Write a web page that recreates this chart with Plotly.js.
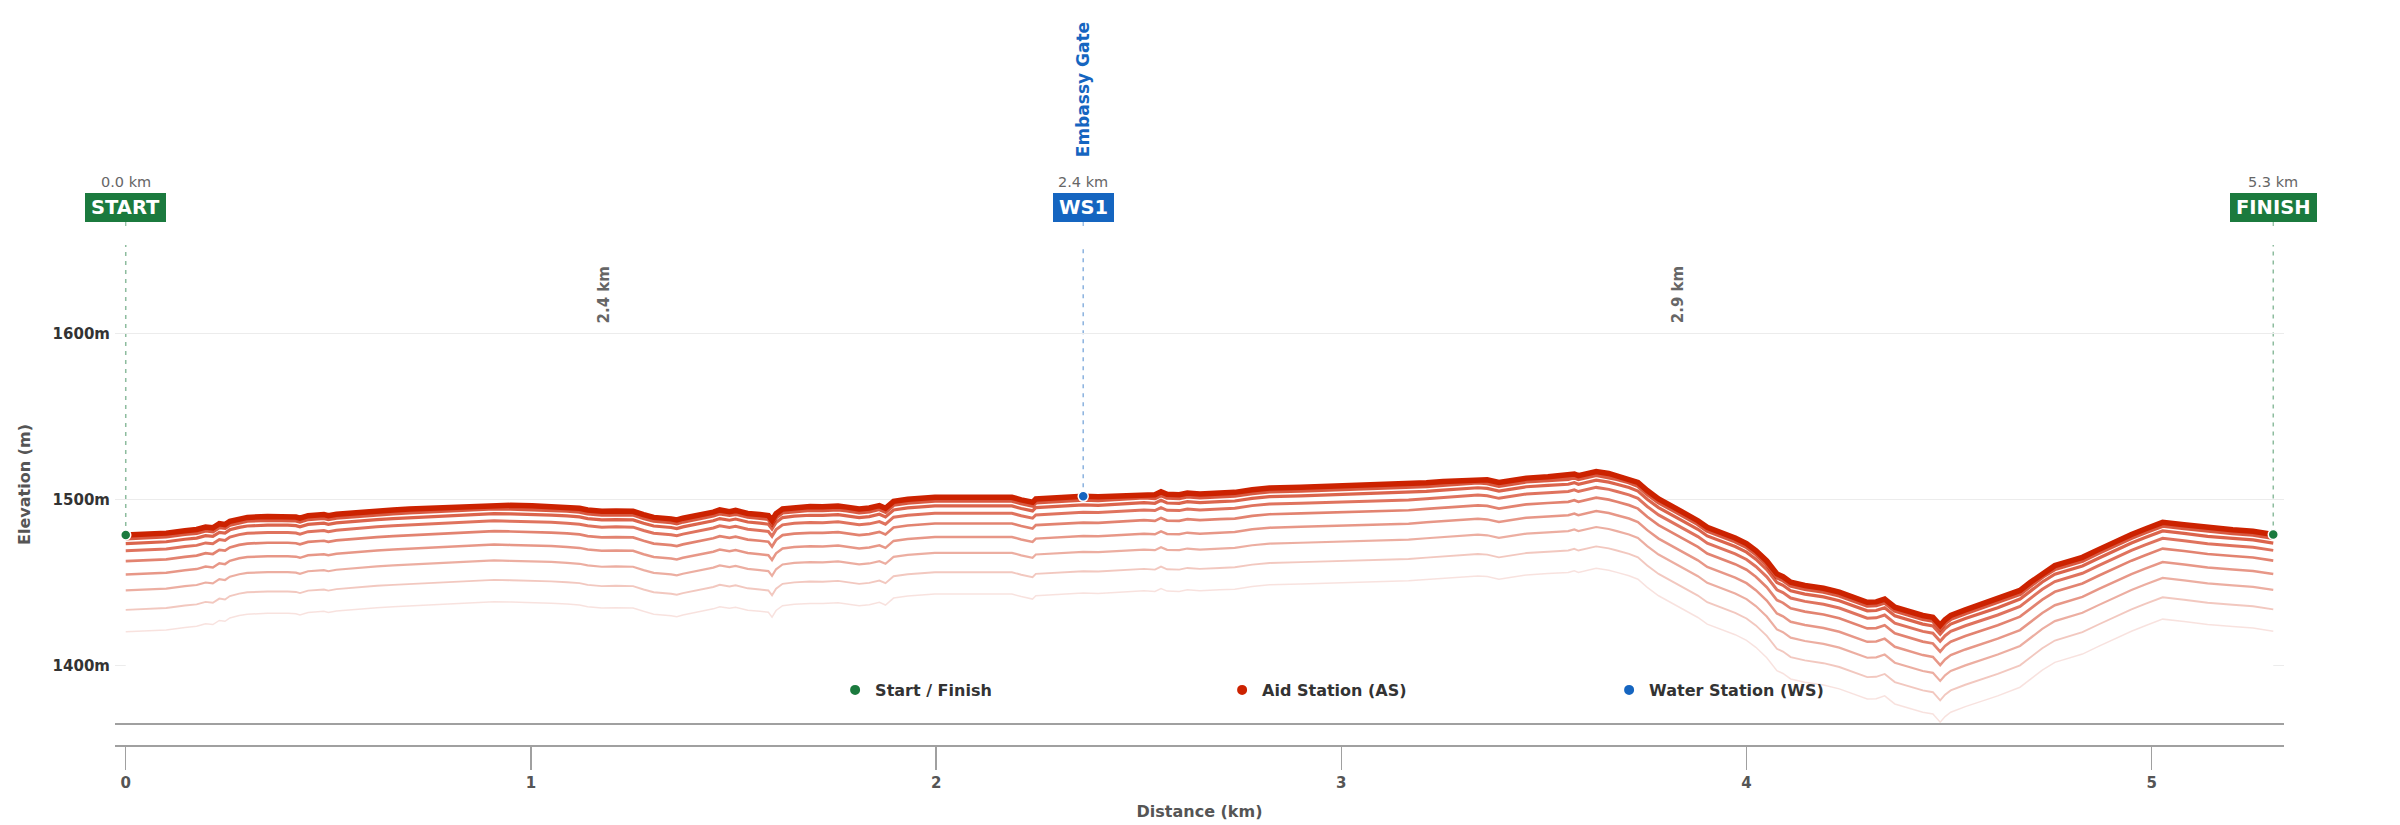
<!DOCTYPE html>
<html>
<head>
<meta charset="utf-8">
<script src="https://cdn.plot.ly/plotly-3.0.1.min.js"></script>
<style>
  html, body { margin: 0; padding: 0; background: #fff; }
  #chart { width: 2400px; height: 825px; }
</style>
</head>
<body>
<div id="chart"></div>
<script>
// ---------------- DATA ----------------
const distanceKm = [
  0.00, 0.05, 0.10, 0.146, 0.175, 0.197, 0.215, 0.231, 0.245, 0.257, 0.28, 0.30, 0.35, 0.40, 0.42, 0.43, 0.45,
  0.489, 0.50, 0.52, 0.574, 0.62, 0.66, 0.70, 0.746, 0.80, 0.832, 0.87, 0.909, 0.95, 1.003, 1.05, 1.089,
  1.12, 1.14, 1.175, 1.21, 1.252, 1.278, 1.303, 1.346, 1.36, 1.375, 1.398, 1.43, 1.45, 1.466, 1.48, 1.49,
  1.505, 1.535, 1.565, 1.586, 1.595, 1.605, 1.621, 1.65, 1.689, 1.72, 1.758, 1.78, 1.81, 1.835, 1.86, 1.875,
  1.895, 1.93, 1.997, 2.05, 2.10, 2.187, 2.21, 2.238, 2.246, 2.30, 2.363, 2.40, 2.45, 2.513, 2.54, 2.555,
  2.57, 2.60, 2.62, 2.651, 2.70, 2.737, 2.78, 2.823, 2.90, 2.994, 3.08, 3.166, 3.21, 3.251, 3.30, 3.337,
  3.36, 3.389, 3.42, 3.457, 3.51, 3.56, 3.575, 3.585, 3.629, 3.66, 3.68, 3.71, 3.732, 3.755, 3.783, 3.82,
  3.852, 3.88, 3.903, 3.94, 3.972, 4.00, 4.023, 4.05, 4.075, 4.09, 4.109, 4.144, 4.19, 4.229, 4.26, 4.298,
  4.32, 4.341, 4.366, 4.40, 4.435, 4.46, 4.478, 4.49, 4.504, 4.54, 4.572, 4.62, 4.675, 4.70, 4.73, 4.761,
  4.80, 4.829, 4.87, 4.915, 4.95, 4.984, 5.027, 5.08, 5.138, 5.20, 5.25, 5.30
];
const elevationM = [
  1478.7, 1479.2, 1479.8, 1481.3, 1482.0, 1483.5, 1483.0, 1485.5, 1485.0, 1487.0, 1488.5, 1489.3, 1489.8, 1489.8, 1489.5, 1488.8, 1490.3,
  1491.0, 1490.3, 1491.2, 1492.4, 1493.2, 1493.8, 1494.3, 1494.8, 1495.6, 1496.0, 1496.5, 1496.8, 1496.6, 1496.4, 1495.9, 1495.4,
  1494.8, 1493.8, 1493.0, 1493.2, 1493.0, 1491.0, 1489.3, 1488.4, 1487.8, 1488.8, 1489.8, 1491.2, 1492.5, 1493.8, 1493.2, 1492.8,
  1493.5, 1491.7, 1491.0, 1490.4, 1487.5, 1491.5, 1494.4, 1495.3, 1495.8, 1495.7, 1496.2, 1495.5, 1494.4, 1495.0, 1496.4, 1494.8,
  1499.0, 1500.2, 1501.4, 1501.4, 1501.5, 1501.4, 1499.9, 1498.4, 1500.4, 1501.2, 1502.0, 1501.8, 1502.5, 1503.4, 1503.0, 1504.8,
  1503.2, 1503.0, 1504.0, 1503.4, 1504.0, 1504.4, 1506.0, 1507.0, 1507.5, 1508.2, 1508.8, 1509.4, 1510.2, 1511.0, 1511.8, 1512.4,
  1512.0, 1510.4, 1511.6, 1513.0, 1513.8, 1514.5, 1515.5, 1514.5, 1517.0, 1515.8, 1514.5, 1512.5, 1510.4, 1505.5, 1500.4, 1495.5,
  1491.4, 1487.3, 1483.3, 1480.0, 1476.9, 1473.5, 1469.3, 1463.0, 1455.2, 1453.5, 1450.2, 1448.2, 1446.5, 1444.2, 1441.5, 1438.1,
  1438.3, 1440.0, 1435.1, 1432.5, 1430.1, 1429.0, 1424.1, 1427.5, 1430.1, 1433.5, 1436.1, 1440.0, 1445.2, 1450.0, 1455.5, 1460.2,
  1463.0, 1465.2, 1470.0, 1475.3, 1479.0, 1482.3, 1486.3, 1484.8, 1483.0, 1481.8, 1480.9, 1479.0
];

const stationNames = ['START', 'WS1', 'FINISH'];
const stationTypes = ['start', 'ws', 'finish'];
const stationKm = [0, 2.363, 5.3];
const stationElev = [1478.7, 1502.0, 1479.0];
const stationNotes = ['', 'Embassy Gate', ''];

const yTickVals = [1400, 1500, 1600];
const yTickText = ['1400m', '1500m', '1600m'];
const xTickVals = [0, 1, 2, 3, 4, 5];
const legendNames = ['Start / Finish', 'Aid Station (AS)', 'Water Station (WS)'];

// ---------------- STYLE ----------------
const FONT = 'DejaVu Sans, sans-serif';
const GREEN = '#1b7a3e', BLUE = '#1565c0', RED = '#cc2200';
const xRange = [-0.0265, 5.3265];
const yRange = [1364.6, 1653.7];
// visual "shadow" stack below the main profile line: offset (m), width (px), opacity
const shadowOffsets = [1.8, 5.2, 9.6, 15.8, 23.9, 33.5, 45.2, 58.4];
const shadowWidths  = [5.0, 3.2, 3.0, 2.7, 2.5, 2.2, 1.9, 1.5];
const shadowAlphas  = [0.75, 0.7, 0.63, 0.56, 0.47, 0.37, 0.25, 0.13];

// ---------------- TRACES ----------------
const traces = [];
// white fill under profile (hides gridlines under the course)
traces.push({
  x: distanceKm, y: elevationM, type: 'scatter', mode: 'lines',
  line: {width: 0, color: 'rgba(255,255,255,0)'}, fill: 'tozeroy', fillcolor: '#ffffff',
  hoverinfo: 'skip', showlegend: false
});
for (let i = shadowOffsets.length - 1; i >= 0; i--) {
  traces.push({
    x: distanceKm, y: elevationM.map(v => v - shadowOffsets[i]),
    type: 'scatter', mode: 'lines',
    line: {width: shadowWidths[i], color: `rgba(204,34,0,${shadowAlphas[i]})`},
    hoverinfo: 'skip', showlegend: false
  });
}
traces.push({
  x: distanceKm, y: elevationM, type: 'scatter', mode: 'lines',
  line: {width: 5.5, color: RED}, showlegend: false, name: 'Elevation'
});

const sfIdx = stationTypes.map((t, i) => (t === 'start' || t === 'finish') ? i : -1).filter(i => i >= 0);
const wsIdx = stationTypes.map((t, i) => t === 'ws' ? i : -1).filter(i => i >= 0);
const asIdx = stationTypes.map((t, i) => t === 'as' ? i : -1).filter(i => i >= 0);
function markerTrace(idx, name, color) {
  return {
    x: idx.length ? idx.map(i => stationKm[i]) : [null],
    y: idx.length ? idx.map(i => stationElev[i]) : [null],
    type: 'scatter', mode: 'markers', name: name,
    marker: {size: 10, color: color, line: {color: '#ffffff', width: 1.5}},
    hoverinfo: 'x+y'
  };
}
traces.push(markerTrace(sfIdx, legendNames[0], GREEN));
traces.push(markerTrace(asIdx, legendNames[1], RED));
traces.push(markerTrace(wsIdx, legendNames[2], BLUE));

// ---------------- SHAPES & ANNOTATIONS ----------------
const shapes = [];
const annotations = [];
stationKm.forEach((km, i) => {
  const isWS = stationTypes[i] === 'ws';
  const col = isWS ? BLUE : GREEN;
  const light = isWS ? 'rgba(21,101,192,0.5)' : 'rgba(27,122,62,0.5)';
  shapes.push({
    type: 'line', xref: 'x', yref: 'y', x0: km, x1: km, y0: stationElev[i], y1: yRange[1],
    line: {color: light, width: 1.5, dash: '4px,5px'}, layer: 'below'
  });
  annotations.push({
    x: km, xref: 'x', y: 1, yref: 'paper', text: stationNames[i],
    showarrow: true, ax: 0, ay: -37.5, arrowhead: 0, arrowwidth: 1.2, arrowcolor: light, standoff: 19,
    font: {family: FONT, size: 19.5, color: '#ffffff', weight: 'bold'},
    bgcolor: col, bordercolor: col, borderwidth: 1, borderpad: 5, height: 17
  });
  annotations.push({
    x: km, xref: 'x', y: 1, yref: 'paper', yanchor: 'middle', yshift: 63,
    text: km.toFixed(1) + ' km', showarrow: false,
    font: {family: FONT, size: 14.5, color: '#666666'}
  });
  if (stationNotes[i]) {
    annotations.push({
      x: km, xref: 'x', y: 1, yref: 'paper', yanchor: 'middle', yshift: 155,
      text: stationNotes[i], textangle: -90, showarrow: false,
      font: {family: FONT, size: 17, color: col, weight: 'bold'}
    });
  }
  if (i > 0) {
    const seg = (parseFloat(km.toFixed(1)) - parseFloat(stationKm[i - 1].toFixed(1))).toFixed(1);
    annotations.push({
      x: (km + stationKm[i - 1]) / 2, xref: 'x', y: 1, yref: 'paper', yanchor: 'middle', yshift: -50,
      text: seg + ' km', textangle: -90, showarrow: false,
      font: {family: FONT, size: 15, color: '#666666', weight: 'bold'}
    });
  }
});
// bottom border of the plotting area
shapes.push({
  type: 'line', xref: 'paper', yref: 'y domain', x0: 0, x1: 1, y0: 0, y1: 0,
  line: {color: '#a0a0a0', width: 2}, layer: 'above'
});

const layout = {
  width: 2400, height: 825,
  margin: {l: 115, r: 116, t: 245, b: 79},
  paper_bgcolor: '#ffffff', plot_bgcolor: '#ffffff',
  font: {family: FONT, color: '#333333'},
  showlegend: true,
  legend: {
    orientation: 'h', x: 0.332, xanchor: 'left', y: 0.1118, yanchor: 'middle',
    bgcolor: 'rgba(0,0,0,0)', entrywidth: 342, entrywidthmode: 'pixels', itemsizing: 'constant',
    font: {family: FONT, size: 16, color: '#333333', weight: 'bold'}
  },
  xaxis: {
    range: xRange, anchor: 'free', position: 0,
    showline: true, linecolor: '#a0a0a0', linewidth: 2,
    ticks: 'outside', ticklen: 23, tickwidth: 1.5, tickcolor: '#a0a0a0',
    tickvals: xTickVals, showgrid: false, zeroline: false,
    tickfont: {family: FONT, size: 15, color: '#555555', weight: 'bold'},
    title: {text: 'Distance (km)', standoff: 13.5, font: {family: FONT, size: 16, color: '#555555', weight: 'bold'}}
  },
  yaxis: {
    domain: [0.0439, 1], range: yRange,
    tickvals: yTickVals, ticktext: yTickText, ticklabelstandoff: 4,
    showgrid: true, gridcolor: '#ececec', gridwidth: 1, zeroline: false, showline: false,
    ticks: '', tickfont: {family: FONT, size: 15, color: '#333333', weight: 'bold'},
    title: {text: 'Elevation (m)', standoff: 18, font: {family: FONT, size: 16, color: '#555555', weight: 'bold'}}
  },
  shapes: shapes,
  annotations: annotations
};

Plotly.newPlot('chart', traces, layout, {displayModeBar: false, staticPlot: true});
</script>
</body>
</html>
